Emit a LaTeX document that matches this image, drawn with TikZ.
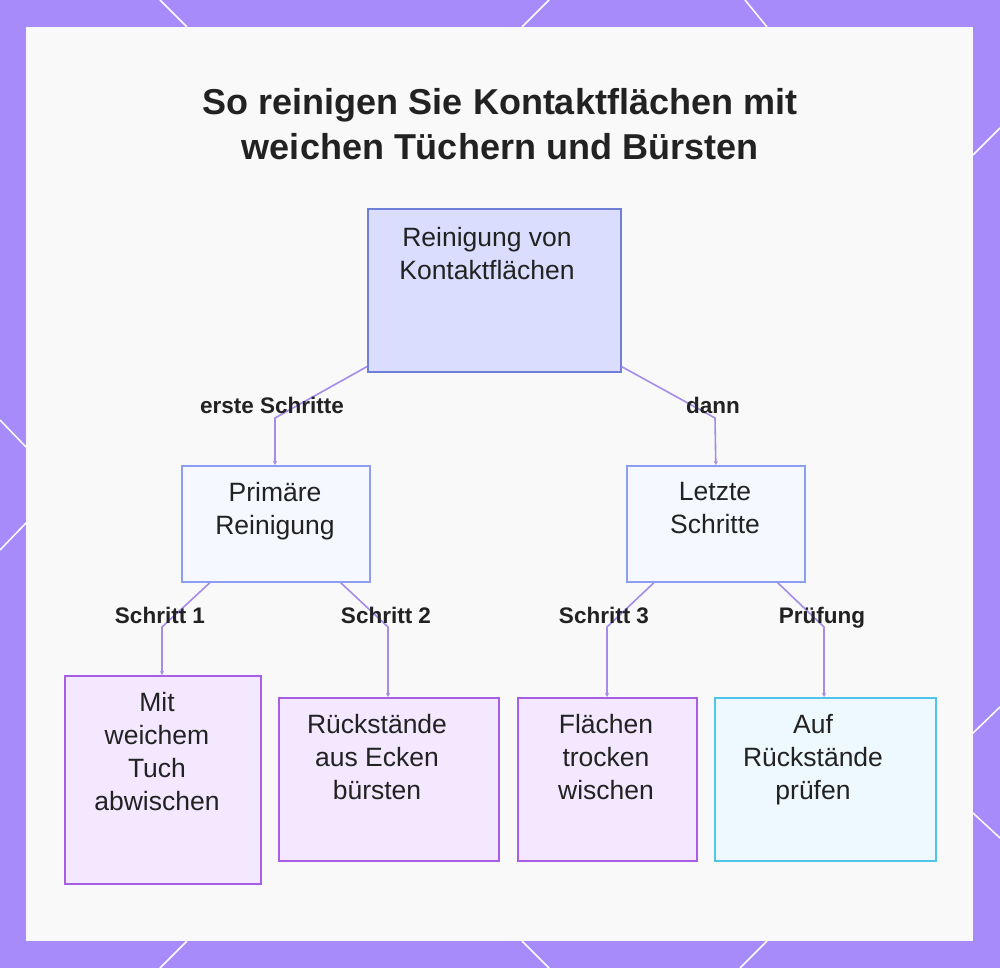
\documentclass[tikz,border=0pt]{standalone}
\usepackage{fontspec}
\setmainfont{Liberation Sans}
\usetikzlibrary{arrows.meta}
\definecolor{frame}{RGB}{167,139,250}
\definecolor{panel}{RGB}{249,249,249}
\definecolor{link}{RGB}{165,140,235}
\definecolor{rootfill}{RGB}{218,221,253}
\definecolor{rootline}{RGB}{111,127,216}
\definecolor{midfill}{RGB}{245,248,255}
\definecolor{midline}{RGB}{140,158,242}
\definecolor{leaffill}{RGB}{243,232,255}
\definecolor{leafline}{RGB}{168,95,230}
\definecolor{checkfill}{RGB}{238,248,255}
\definecolor{checkline}{RGB}{79,197,232}
\definecolor{ink}{RGB}{34,34,34}

\tikzset{
  box/.style={draw,line width=1.6pt,anchor=north west,inner sep=0pt},
  rootbox/.style={box,fill=rootfill,draw=rootline},
  midbox/.style={box,fill=midfill,draw=midline},
  leafbox/.style={box,fill=leaffill,draw=leafline},
  checkbox/.style={box,fill=checkfill,draw=checkline},
  boxtext/.style={anchor=north,align=center,inner sep=0pt,text=ink,
    font=\fontsize{26.5}{33}\selectfont},
  linklabel/.style={anchor=base,font=\bfseries\fontsize{22.5}{24}\selectfont,text=ink},
  linkline/.style={draw=link,line width=1.6pt,-{Stealth[length=4pt,width=4pt]}},
  deco/.style={draw=white,line width=1.5pt}
}

\begin{document}
\begin{tikzpicture}[x=1pt,y=-1pt]
\useasboundingbox (0,0) rectangle (1000,968);
% frame and panel
\fill[frame] (0,0) rectangle (1000,968);
\draw[deco] (160,0) -- (187,27);
\draw[deco] (549,0) -- (522,27);
\draw[deco] (745,0) -- (767,27);
\draw[deco] (973,155) -- (1000,128);
\draw[deco] (973,733) -- (1000,707);
\draw[deco] (973,813) -- (1000,838);
\draw[deco] (187,941) -- (160,968);
\draw[deco] (522,941) -- (549,968);
\draw[deco] (767,941) -- (740,968);
\draw[deco] (0,420) -- (26,447);
\draw[deco] (26,523) -- (0,550);
\fill[panel] (26,27) rectangle (973,941);

% title
\node[font=\bfseries\fontsize{36}{45}\selectfont,text=ink,align=center] (title) at (500,124)
  {So reinigen Sie Kontaktflächen mit\\weichen Tüchern und Bürsten};

% boxes
\node[rootbox,minimum width=253pt,minimum height=163pt] (root) at (367,208) {};
\node[boxtext] (roottext) at (487,227) {Reinigung von\\Kontaktflächen};

\node[midbox,minimum width=188pt,minimum height=116pt] (primary) at (181,465) {};
\node[boxtext] (primarytext) at (275,482) {Primäre\\Reinigung};
\node[midbox,minimum width=178pt,minimum height=116pt] (final) at (626,465) {};
\node[boxtext] (finaltext) at (715,482) {Letzte\\Schritte};

\node[leafbox,minimum width=196pt,minimum height=208pt] (wipe) at (64,675) {};
\node[boxtext] (wipetext) at (157,692) {Mit\\weichem\\Tuch\\abwischen};
\node[leafbox,minimum width=220pt,minimum height=163pt] (brush) at (278,697) {};
\node[boxtext] (brushtext) at (377,714) {Rückstände\\aus Ecken\\bürsten};
\node[leafbox,minimum width=179pt,minimum height=163pt] (dry) at (517,697) {};
\node[boxtext] (drytext) at (606,714) {Flächen\\trocken\\wischen};
\node[checkbox,minimum width=221pt,minimum height=163pt] (check) at (714,697) {};
\node[boxtext] (checktext) at (813,714) {Auf\\Rückstände\\prüfen};

% connectors
\draw[linkline] (root.south west) ++(0,-6) -- (275,418) -- (primary.north -| 275,0);
\draw[linkline] (root.south east) ++(0,-6) -- (715,418) -- (final.north);
\node[linklabel] (l1) at (272,413) {erste Schritte};
\node[linklabel] (l2) at (713,413) {dann};

\draw[linkline] (primary.south west) ++(29,0) -- (162,627) -- (wipe.north -| 162,0);
\draw[linkline] (primary.south east) ++(-30,0) -- (388,627) -- (brush.north -| 388,0);
\draw[linkline] (final.south west) ++(28,0) -- (607,627) -- (dry.north -| 607,0);
\draw[linkline] (final.south east) ++(-28,0) -- (824,627) -- (check.north -| 824,0);
\node[linklabel] (l3) at (160,623) {Schritt 1};
\node[linklabel] (l4) at (386,623) {Schritt 2};
\node[linklabel] (l5) at (604,623) {Schritt 3};
\node[linklabel] (l6) at (822,623) {Prüfung};
\end{tikzpicture}
\end{document}
